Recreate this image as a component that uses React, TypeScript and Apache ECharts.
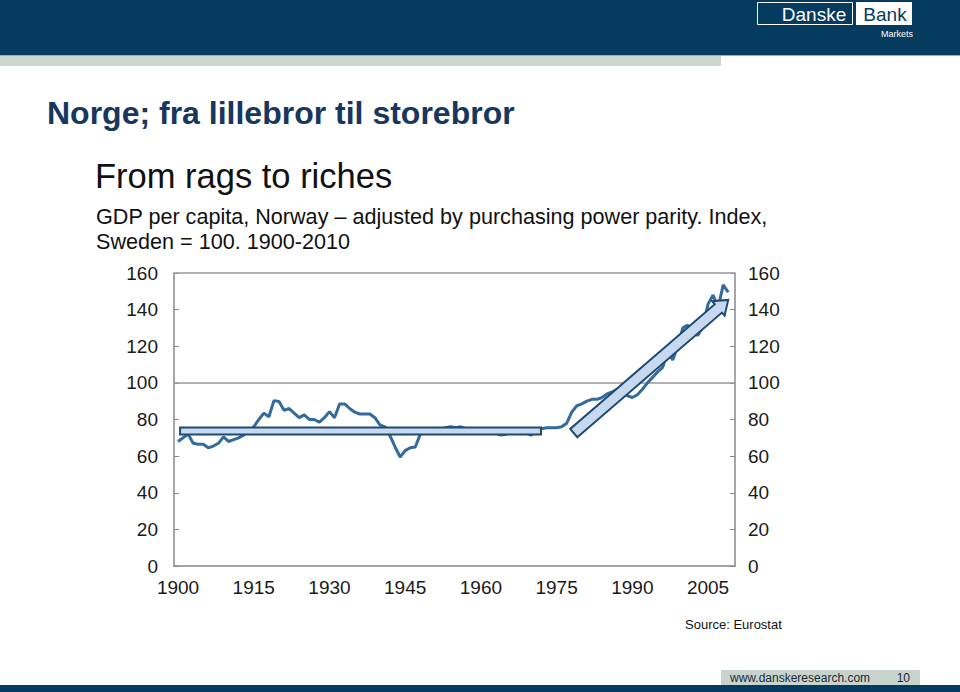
import React, { useEffect, useRef } from "react";
import * as echarts from "echarts";

// ---- data ----
const FIRST_YEAR = 1900;
// GDP per capita, Norway, PPP-adjusted, index Sweden = 100 (1900..2009)
const gdpIndex: (number | null)[] = [
  68, 70, 72, 67, 66.5, 66.5, 64.6, 65.5, 67, 70.5, // 1900-1909
  68, 69, 70, 71.5, 73.5, 76, 80, 83.5, 81.5, 90.3, // 1910-1919
  89.8, 85, 86, 83.5, 81, 82.5, 80, 80, 78.6, 81, // 1920-1929
  84.3, 81, 88.5, 88.5, 86, 84, 83, 83, 83, 81, // 1930-1939
  77, 76, 71, 65, 59.5, 63, 64.6, 65, 72, 74, // 1940-1949
  74, 74, 74.5, 75.5, 76, 75.5, 76, 75, 74, 74, // 1950-1959
  74, 74, 73.5, 72.5, 71.5, 72, 73, 73.5, 74, 72.5, // 1960-1969
  71.5, 73.5, 75, 75.5, 75.5, 75.5, 76, 78, 84, 87.5, // 1970-1979
  88.5, 90, 91, 91, 92, 94, 95, 96.5, 96, 93, // 1980-1989
  92, 93.5, 96.5, 100, 103, 106, 108.5, 117, 112.5, 120, // 1990-1999
  130, 131.5, 127, 126, 131, 143, 148, 141, 153.5, 149.5, // 2000-2009
];
const xLabelYears = [1900, 1915, 1930, 1945, 1960, 1975, 1990, 2005];
const referenceLines = [100, 160];
// annotation shapes in data coordinates: [year, index]
const flatBar = [
  [1900.4, 73.7],
  [1971.9, 73.7],
];
const riseArrow = [
  [1978.4, 72.6],
  [2009.0, 145.3],
];

const FONT = '"Liberation Sans", Arial, sans-serif';
const NAVY = "#063b60";
const LINE = "#336b9c";
const ANN_STROKE = "#1f4a72";
const ANN_FILL = "#c6d9ef";

export default function App() {
  const ref = useRef<HTMLDivElement>(null);
  useEffect(() => {
    const chart = echarts.init(ref.current!, null, { renderer: "svg" });
    const seriesData = gdpIndex.map((v, i) => [FIRST_YEAR + i, v]);

    const staticGraphics: any[] = [
      // header
      { type: "rect", shape: { x: 0, y: 0, width: 960, height: 55 }, style: { fill: NAVY }, silent: true },
      { type: "rect", shape: { x: 0, y: 55, width: 960, height: 1 }, style: { fill: "#8fb3c9" }, silent: true },
      { type: "rect", shape: { x: 0, y: 56, width: 721, height: 10 }, style: { fill: "#cad6ce" }, silent: true },
      // logo
      { type: "rect", shape: { x: 757.5, y: 2.5, width: 95, height: 22 }, style: { fill: "none", stroke: "#ffffff", lineWidth: 1 }, silent: true },
      { type: "text", x: 814, y: 14, style: { text: "Danske", fill: "#ffffff", fontSize: 19, fontFamily: FONT, align: "center", verticalAlign: "middle" }, silent: true },
      { type: "rect", shape: { x: 856, y: 2, width: 56, height: 23 }, style: { fill: "#ffffff" }, silent: true },
      { type: "text", x: 885, y: 14, style: { text: "Bank", fill: NAVY, fontSize: 19, fontFamily: FONT, align: "center", verticalAlign: "middle" }, silent: true },
      { type: "text", x: 913, y: 34, style: { text: "Markets", fill: "#ffffff", fontSize: 9, fontFamily: FONT, align: "right", verticalAlign: "middle" }, silent: true },
      // titles
      { type: "text", x: 47, y: 113, style: { text: "Norge; fra lillebror til storebror", fill: "#17375e", fontSize: 32, fontWeight: "bold", fontFamily: FONT, verticalAlign: "middle" }, silent: true },
      { type: "text", x: 95, y: 176, style: { text: "From rags to riches", fill: "#111111", fontSize: 34.5, fontFamily: FONT, verticalAlign: "middle" }, silent: true },
      { type: "text", x: 96, y: 216, style: { text: "GDP per capita, Norway \u2013 adjusted by purchasing power parity. Index,", fill: "#111111", fontSize: 21.6, fontFamily: FONT, verticalAlign: "middle" }, silent: true },
      { type: "text", x: 96, y: 241, style: { text: "Sweden = 100. 1900-2010", fill: "#111111", fontSize: 21.6, fontFamily: FONT, verticalAlign: "middle" }, silent: true },
      { type: "text", x: 685, y: 624, style: { text: "Source: Eurostat", fill: "#111111", fontSize: 13, fontFamily: FONT, verticalAlign: "middle" }, silent: true },
      // footer
      { type: "rect", shape: { x: 721, y: 670, width: 199, height: 15 }, style: { fill: "#c8d3cd" }, silent: true },
      { type: "text", x: 730, y: 678, style: { text: "www.danskeresearch.com", fill: "#1b2b3a", fontSize: 12, fontFamily: FONT, verticalAlign: "middle" }, silent: true },
      { type: "text", x: 910, y: 678, style: { text: "10", fill: "#1b2b3a", fontSize: 12, fontFamily: FONT, align: "right", verticalAlign: "middle" }, silent: true },
      { type: "rect", shape: { x: 0, y: 685, width: 960, height: 7 }, style: { fill: NAVY }, silent: true },
    ];

    const yAxisCommon = {
      type: "value",
      min: 0,
      max: 160,
      interval: 20,
      splitLine: { show: false },
      axisLine: { show: true, lineStyle: { color: "#888888", width: 1.5 } },
      axisTick: { show: true, inside: true, length: 5, lineStyle: { color: "#888888" } },
      axisLabel: { color: "#1a1a1a", fontSize: 19, fontFamily: FONT },
    };

    const option: any = {
      animation: false,
      backgroundColor: "#ffffff",
      grid: { left: 174, right: 225, top: 273, bottom: 126, containLabel: false },
      xAxis: {
        type: "value",
        min: 1899.2,
        max: 2010.34,
        splitLine: { show: false },
        axisLine: { show: true, lineStyle: { color: "#888888", width: 1.5 } },
        axisTick: { show: false },
        axisLabel: {
          customValues: xLabelYears,
          color: "#1a1a1a",
          fontSize: 19,
          fontFamily: FONT,
          margin: 12,
          formatter: (v: number) => String(v),
        },
      },
      yAxis: [
        { ...yAxisCommon, position: "left", axisLabel: { ...yAxisCommon.axisLabel, margin: 16 } },
        { ...yAxisCommon, position: "right", axisLabel: { ...yAxisCommon.axisLabel, margin: 13 } },
      ],
      series: [
        {
          type: "line",
          data: seriesData,
          showSymbol: false,
          symbol: "none",
          lineStyle: { color: LINE, width: 3 },
          z: 3,
          markLine: {
            silent: true,
            symbol: "none",
            label: { show: false },
            lineStyle: { color: "#999999", width: 1.5, type: "solid" },
            data: referenceLines.map((v) => ({ yAxis: v })),
            z: 1,
          },
        },
      ],
      graphic: staticGraphics,
    };
    chart.setOption(option);

    // annotations converted through the chart's own scales
    const toPx = (p: number[]) => chart.convertToPixel({ gridIndex: 0 }, p) as number[];
    const b0 = toPx(flatBar[0]);
    const b1 = toPx(flatBar[1]);
    const barH = 7;
    const a0 = toPx(riseArrow[0]);
    const a1 = toPx(riseArrow[1]);
    const dx = a1[0] - a0[0];
    const dy = a1[1] - a0[1];
    const len = Math.sqrt(dx * dx + dy * dy);
    const ux = dx / len;
    const uy = dy / len;
    const nx = -uy;
    const ny = ux;
    const w = 11;
    const hw = 19;
    const hl = 13;
    const neck = [a1[0] - ux * hl, a1[1] - uy * hl];
    const pts = [
      [a0[0] + (nx * w) / 2, a0[1] + (ny * w) / 2],
      [neck[0] + (nx * w) / 2, neck[1] + (ny * w) / 2],
      [neck[0] + (nx * hw) / 2, neck[1] + (ny * hw) / 2],
      [a1[0], a1[1]],
      [neck[0] - (nx * hw) / 2, neck[1] - (ny * hw) / 2],
      [neck[0] - (nx * w) / 2, neck[1] - (ny * w) / 2],
      [a0[0] - (nx * w) / 2, a0[1] - (ny * w) / 2],
    ];

    chart.setOption({
      graphic: [
        ...staticGraphics,
        {
          type: "rect",
          z: 100,
          shape: { x: b0[0], y: b0[1] - barH / 2, width: b1[0] - b0[0], height: barH },
          style: { fill: ANN_FILL, stroke: ANN_STROKE, lineWidth: 2 },
          silent: true,
        },
        {
          type: "polygon",
          z: 100,
          shape: { points: pts },
          style: { fill: ANN_FILL, stroke: ANN_STROKE, lineWidth: 2, lineJoin: "miter" },
          silent: true,
        },
      ],
    });

    return () => chart.dispose();
  }, []);
  return <div ref={ref} style={{ position: "absolute", left: 0, top: 0, width: 960, height: 692 }} />;
}
